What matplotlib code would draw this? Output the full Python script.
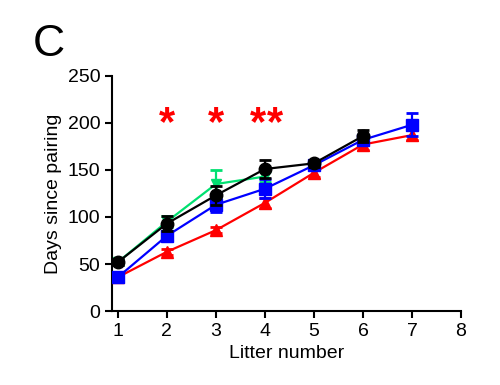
import matplotlib
matplotlib.use("Agg")
import matplotlib.pyplot as plt

plt.rcParams['font.family'] = ['Liberation Sans', 'DejaVu Sans']

litters_black = [1, 2, 3, 4, 5, 6]
black = [52, 93, 123, 151, 157, 186]
black_err = [3, 8, 10, 10, 4, 6]

litters_green = [1, 2, 3, 4]
green = [52, 95, 135, 143]
green_err = [3, 6, 15, 6]

litters_blue = [1, 2, 3, 4, 5, 6, 7]
blue = [36, 80, 113, 130, 155, 182, 198]
blue_err = [3, 5, 8, 10, 4, 5, 12]

litters_red = [1, 2, 3, 4, 5, 6, 7]
red = [36, 63, 86, 115, 147, 177, 187]
red_err = [2, 3, 3, 5, 4, 6, 5]

star_x = [2, 3, 3.85, 4.2]
star_y = [199, 199, 199, 199]

fig = plt.figure(figsize=(5, 3.85), dpi=100)
ax = fig.add_axes([0.224, 0.192, 0.698, 0.611])

def series(x, y, e, color, marker, ms, z):
    ax.errorbar(x, y, yerr=e, color=color, marker=marker, markersize=ms, lw=1.6,
                elinewidth=1.6, capsize=4, capthick=2, zorder=z, mec=color)

series(litters_red, red, red_err, '#ff0000', '^', 8, 3)
series(litters_blue, blue, blue_err, '#0000ff', 's', 8, 4)
series(litters_green, green, green_err, '#00e070', 'v', 7, 2)
series(litters_black, black, black_err, '#000000', 'o', 9, 5)

for x, y in zip(star_x, star_y):
    ax.text(x, y, '*', color='#ff0000', fontsize=30, fontweight='bold',
            ha='center', va='center')

ax.set_xlim(0.88, 8)
ax.set_ylim(0, 250)
ax.set_xticks(range(1, 9))
ax.set_yticks(range(0, 251, 50))
ax.spines['top'].set_visible(False)
ax.spines['right'].set_visible(False)
for s in ['left', 'bottom']:
    ax.spines[s].set_linewidth(1.5)
ax.tick_params(width=1.5, length=5, labelsize=14)
ax.set_xlabel('Litter number', fontsize=14)
ax.set_ylabel('Days since pairing', fontsize=14)
fig.text(0.065, 0.885, 'C', fontsize=32, ha='left', va='center')

fig.savefig('out.png', dpi=100)
